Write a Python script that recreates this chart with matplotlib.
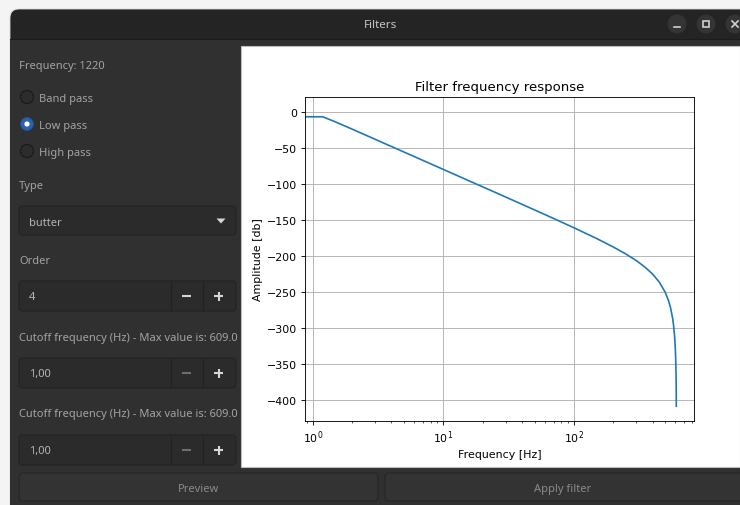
import matplotlib
matplotlib.use("Agg")
import matplotlib.pyplot as plt
from matplotlib.patches import FancyBboxPatch, Rectangle, Circle, Polygon

# Frequency response of a 4th-order Butterworth low pass (cutoff 1 Hz, fs 1220 Hz)
freq_hz = [0.0, 1.19, 1.5, 2.0, 3.0, 5.0, 7.0, 10.0, 15.0, 20.0, 30.0, 50.0,
           70.0, 100.0, 150.0, 200.0, 250.0, 300.0, 350.0, 400.0, 450.0,
           500.0, 530.0, 550.0, 570.0, 580.0, 590.0, 595.0, 600.0, 603.0,
           605.0, 607.0, 608.0, 608.8]
amplitude_db = [0.0, -7.0, -14.3, -24.1, -38.2, -55.9, -67.6, -80.0, -94.1,
                -104.1, -118.2, -136.1, -148.0, -160.8, -175.9, -187.4,
                -197.2, -206.2, -215.3, -224.9, -235.9, -250.0, -261.5,
                -271.7, -286.0, -296.0, -310.2, -320.2, -334.3, -346.7,
                -358.4, -376.1, -390.2, -408.2]

y_ticks = [0, -50, -100, -150, -200, -250, -300, -350, -400]

sampling_rate = 1220
filter_kinds = ["Band pass", "Low pass", "High pass"]
selected_kind = "Low pass"
filter_type = "butter"
order_value = "4"
cutoff_values = ["1,00", "1,00"]
max_cutoff = 609.0

W, H = 740, 506
fig = plt.figure(figsize=(W / 100, H / 100), dpi=100)
fig.patch.set_facecolor("#f4f4f4")

ui = fig.add_axes([0, 0, 1, 1])
ui.set_xlim(0, W)
ui.set_ylim(H, 0)
ui.axis("off")

TITLE_BG = "#242424"
BODY_BG = "#303030"
FIELD_BG = "#2b2b2b"
FIELD_EDGE = "#232323"
LABEL_C = "#a3a3a3"
FONT = "Noto Sans"
UI_SIZE = 8.0

# window frame
ui.add_patch(FancyBboxPatch((10, 10), W + 20, H + 20,
                            boxstyle="round,pad=0,rounding_size=9",
                            fc=TITLE_BG, ec="#d8d8d8", lw=0.6))
ui.add_patch(Rectangle((10, 40), W, H, fc=BODY_BG, ec="none"))
ui.plot([10, W], [39.5, 39.5], color="#1c1c1c", lw=0.8)
ui.text(381, 25.5, "Filters", color="#c4c4c4", fontsize=8.4, family=FONT,
        ha="center", va="center")

# window controls
for cx in (677, 706, 735):
    ui.add_patch(Circle((cx, 25), 9.5, fc="#343434", ec="none"))
ui.plot([674, 680], [28, 28], color="#cfcfcf", lw=1.2)
ui.add_patch(Rectangle((703, 22), 6, 6, fc="none", ec="#cfcfcf", lw=1.2))
ui.plot([732, 738], [22, 28], color="#cfcfcf", lw=1.2)
ui.plot([732, 738], [28, 22], color="#cfcfcf", lw=1.2)


def label(y, text):
    ui.text(19, y + 1, text, color=LABEL_C, fontsize=UI_SIZE, family=FONT,
            ha="left", va="center")


def field(y0, h=30, w=217):
    ui.add_patch(FancyBboxPatch((19, y0), w, h,
                                boxstyle="round,pad=0,rounding_size=4",
                                fc=FIELD_BG, ec=FIELD_EDGE, lw=0.8))


def spin(y0, value, minus_active):
    field(y0)
    yc = y0 + 15
    ui.plot([170.5, 170.5], [y0 + 1, y0 + 29], color="#222222", lw=0.8)
    ui.plot([202.5, 202.5], [y0 + 1, y0 + 29], color="#222222", lw=0.8)
    ui.text(29, yc + 1, value, color="#b4b4b4", fontsize=UI_SIZE, family=FONT,
            ha="left", va="center")
    mc = "#d6d6d6" if minus_active else "#6e6e6e"
    ui.plot([182, 191], [yc, yc], color=mc, lw=1.5, solid_capstyle="butt")
    ui.plot([214, 223], [yc, yc], color="#d6d6d6", lw=1.5, solid_capstyle="butt")
    ui.plot([218.5, 218.5], [yc - 4.5, yc + 4.5], color="#d6d6d6", lw=1.5,
            solid_capstyle="butt")


label(65, f"Frequency: {sampling_rate}")

for i, kind in enumerate(filter_kinds):
    yc = 98 + 27 * i
    if kind == selected_kind:
        ui.add_patch(Circle((27, yc), 6.5, fc="#2a63b0", ec="#1f4f90", lw=0.6))
        ui.add_patch(Circle((27, yc), 2.6, fc="#ffffff", ec="none"))
    else:
        ui.add_patch(Circle((27, yc), 6.5, fc="#2c2c2c", ec="#1b1b1b", lw=0.9))
    ui.text(39, yc + 1, kind, color=LABEL_C, fontsize=UI_SIZE, family=FONT,
            ha="left", va="center")

label(185, "Type")
field(207, h=29)
ui.text(29, 223, filter_type, color="#b4b4b4", fontsize=UI_SIZE, family=FONT,
        ha="left", va="center")
ui.add_patch(Polygon([[216.5, 219.5], [225.5, 219.5], [221, 224.5]],
                     closed=True, fc="#d6d6d6", ec="none"))

label(260, "Order")
spin(282, order_value, True)

label(337, f"Cutoff frequency (Hz) - Max value is: {max_cutoff}")
spin(359, cutoff_values[0], False)

label(414, f"Cutoff frequency (Hz) - Max value is: {max_cutoff}")
spin(436, cutoff_values[1], False)

# bottom buttons
ui.add_patch(FancyBboxPatch((19, 474), 359, 28,
                            boxstyle="round,pad=0,rounding_size=4",
                            fc="#333333", ec="#262626", lw=0.8))
ui.add_patch(FancyBboxPatch((385, 474), 370, 28,
                            boxstyle="round,pad=0,rounding_size=4",
                            fc="#333333", ec="#262626", lw=0.8))
ui.text(198.5, 490, "Preview", color="#8a8a8a", fontsize=UI_SIZE, family=FONT,
        ha="center", va="center")
ui.text(563, 490, "Apply filter", color="#8a8a8a", fontsize=UI_SIZE, family=FONT,
        ha="center", va="center")

# plot canvas
ui.add_patch(Rectangle((241, 47), W - 241, 421, fc="white", ec="#bdbdbd", lw=0.8))

s = 0.792  # canvas point scale
ax = fig.add_axes([305 / W, (H - 422) / H, 389 / W, 324 / H])
ax.plot(freq_hz, amplitude_db, color="#1f77b4", lw=1.5 * s)
ax.set_xscale("log")
ax.set_yticks(y_ticks)
ax.set_title("Filter frequency response", fontsize=12 * s, pad=6 * s)
ax.set_xlabel("Frequency [Hz]", fontsize=10 * s, labelpad=3 * s)
ax.set_ylabel("Amplitude [db]", fontsize=10 * s, labelpad=4 * s)
ax.grid(True, color="#b0b0b0", lw=0.8 * s)
ax.tick_params(labelsize=10 * s, length=3.5 * s, width=0.8 * s, pad=3.5 * s)
ax.tick_params(which="minor", length=2 * s, width=0.6 * s)
for sp in ax.spines.values():
    sp.set_linewidth(0.8 * s)

fig.savefig("out.png", dpi=100, facecolor=fig.get_facecolor())
